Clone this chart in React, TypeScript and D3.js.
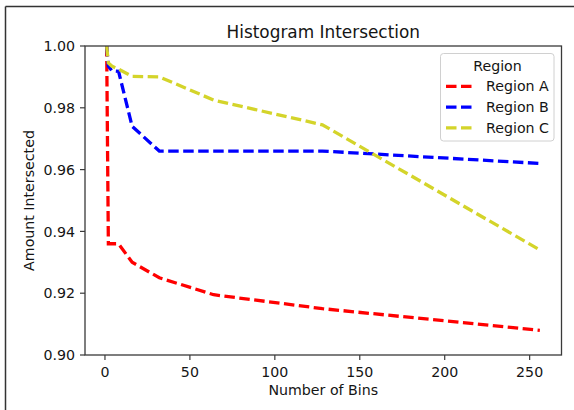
import React from "react";
import * as d3 from "d3";

const bins = [1, 2, 4, 8, 16, 32, 64, 128, 256];
const regionA = [1.0, 0.936, 0.936, 0.936, 0.93, 0.925, 0.9195, 0.915, 0.908];
const regionB = [1.0, 0.9935, 0.992, 0.9918, 0.974, 0.966, 0.966, 0.966, 0.962];
const regionC = [1.0, 0.9945, 0.9935, 0.9925, 0.9902, 0.99, 0.9825, 0.9745, 0.934];
const seriesNames = ["Region A", "Region B", "Region C"];
const seriesColors = ["#ff0000", "#0000ff", "#d4d42a"];
const xTicks = [0, 50, 100, 150, 200, 250];
const yTicks = [0.9, 0.92, 0.94, 0.96, 0.98, 1.0];

const W = 574;
const H = 410;
const left = 85;
const right = 561.5;
const top = 46;
const bottom = 355;
const font = "'DejaVu Sans', sans-serif";
const axisColor = "#3a3a3a";
const textColor = "#151515";

export default function App() {
  const x = d3.scaleLinear().domain([1 - 12.75, 256 + 12.75]).range([left, right]);
  const y = d3.scaleLinear().domain([0.9, 1.0]).range([bottom, top]);
  const line = d3
    .line<number>()
    .x((_, i) => x(bins[i]))
    .y((d) => y(d));
  const series = [regionA, regionB, regionC];

  return (
    <svg
      width={W}
      height={H}
      style={{ position: "absolute", left: 0, top: 0, background: "#fff" }}
      fontFamily={font}
    >
      <rect x={0} y={0} width={W} height={H} fill="#fff" />
      {/* outer frame */}
      <line x1={5.5} y1={6.5} x2={5.5} y2={H} stroke="#333" strokeWidth={1.5} />
      <line x1={5.5} y1={6.5} x2={W} y2={6.5} stroke="#333" strokeWidth={1.5} />

      <defs>
        <clipPath id="plotclip">
          <rect x={left} y={top} width={right - left} height={bottom - top} />
        </clipPath>
      </defs>

      <g clipPath="url(#plotclip)">
        {series.map((s, i) => (
          <path
            key={seriesNames[i]}
            d={line(s) || ""}
            fill="none"
            stroke={seriesColors[i]}
            strokeWidth={3.3}
            strokeDasharray="10.5,4.5"
          />
        ))}
      </g>

      {/* axes frame */}
      <rect
        x={left}
        y={top}
        width={right - left}
        height={bottom - top}
        fill="none"
        stroke={axisColor}
        strokeWidth={1.3}
      />

      {/* x ticks */}
      {xTicks.map((t) => (
        <g key={"x" + t}>
          <line x1={x(t)} x2={x(t)} y1={bottom} y2={bottom + 5} stroke={axisColor} strokeWidth={1.2} />
          <text x={x(t)} y={bottom + 21.5} textAnchor="middle" fontSize={14.2} fill={textColor}>
            {t}
          </text>
        </g>
      ))}

      {/* y ticks */}
      {yTicks.map((t) => (
        <g key={"y" + t}>
          <line x1={left - 5} x2={left} y1={y(t)} y2={y(t)} stroke={axisColor} strokeWidth={1.2} />
          <text x={left - 10} y={y(t) + 5.2} textAnchor="end" fontSize={14.2} fill={textColor}>
            {t.toFixed(2)}
          </text>
        </g>
      ))}

      {/* title */}
      <text x={(left + right) / 2} y={37.7} textAnchor="middle" fontSize={16.9} fill={textColor}>
        Histogram Intersection
      </text>

      {/* axis labels */}
      <text x={(left + right) / 2} y={395} textAnchor="middle" fontSize={14.2} fill={textColor}>
        Number of Bins
      </text>
      <text
        transform={`translate(34, ${(top + bottom) / 2}) rotate(-90)`}
        textAnchor="middle"
        fontSize={14.2}
        fill={textColor}
      >
        Amount Intersected
      </text>

      {/* legend */}
      <rect
        x={440.5}
        y={53.5}
        width={113.5}
        height={87.5}
        rx={3}
        fill="#fff"
        fillOpacity={0.8}
        stroke="#d0d0d0"
        strokeWidth={1}
      />
      <text x={497.5} y={70.7} textAnchor="middle" fontSize={14.2} fill={textColor}>
        Region
      </text>
      {seriesNames.map((n, i) => (
        <g key={"leg" + n}>
          <line
            x1={446}
            x2={472}
            y1={86.3 + i * 20.8}
            y2={86.3 + i * 20.8}
            stroke={seriesColors[i]}
            strokeWidth={3.3}
            strokeDasharray="10.5,4.5"
          />
          <text x={486} y={91.3 + i * 20.8} fontSize={14.2} fill={textColor}>
            {n}
          </text>
        </g>
      ))}
    </svg>
  );
}
